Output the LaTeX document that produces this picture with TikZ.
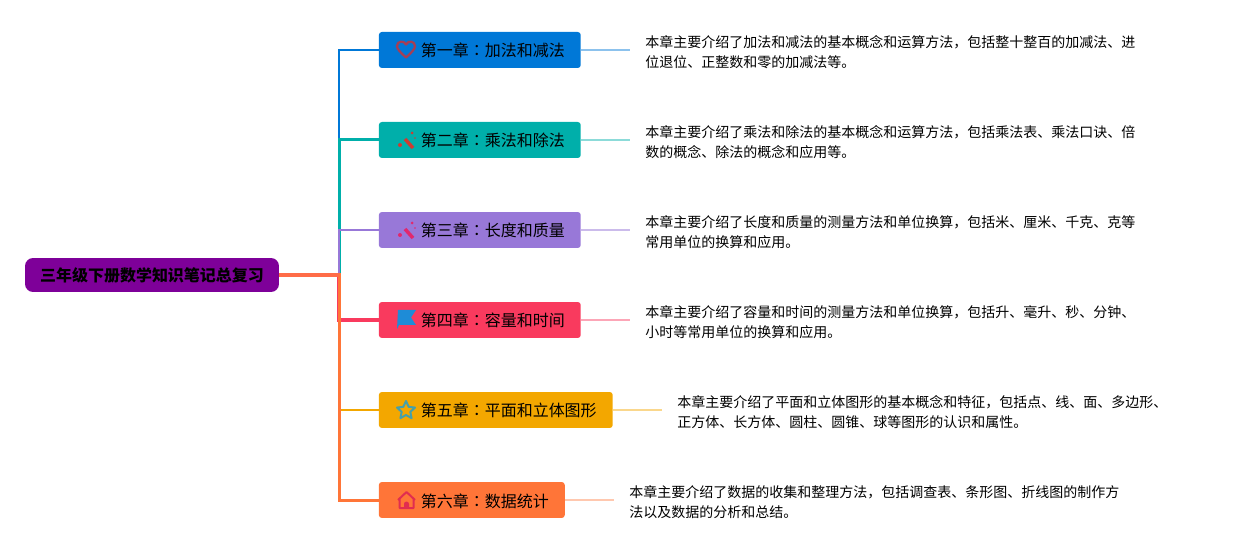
\documentclass[tikz,border=0pt]{standalone}
\usepackage{fontspec}
\setmainfont{Noto Sans CJK SC}
\newfontfamily\colonfont{Noto Sans CJK TC}
\usepackage{xcolor}
\usetikzlibrary{shapes.geometric, positioning}
\definecolor{root-purple}{RGB}{126,0,153}
\definecolor{ch-blue}{RGB}{0,120,215}
\definecolor{ch-teal}{RGB}{0,175,170}
\definecolor{ch-violet}{RGB}{152,120,216}
\definecolor{ch-red}{RGB}{249,58,94}
\definecolor{ch-amber}{RGB}{243,167,0}
\definecolor{ch-orange}{RGB}{255,117,56}
\definecolor{stem-coral}{RGB}{255,108,72}
\definecolor{icon-heart}{RGB}{165,62,85}
\definecolor{icon-wand}{RGB}{205,60,50}
\definecolor{icon-pink}{RGB}{225,40,110}
\definecolor{icon-flag}{RGB}{30,140,215}
\definecolor{icon-star}{RGB}{70,160,170}
\definecolor{icon-house}{RGB}{225,45,80}
\newcommand{\cncolon}{{\colonfont ：}}
\tikzset{
  rootbox/.style={draw=none, fill=root-purple, text=black, rounded corners=0.16cm, minimum width=5.08cm, minimum height=0.68cm, inner sep=0pt, text height=0.32cm, text depth=0.04cm, font=\fontsize{9.1}{11}\selectfont\bfseries},
  chapterbox/.style={draw=none, fill=#1, text=black, rounded corners=0.06cm, anchor=west, minimum height=0.72cm, inner xsep=0.32cm, inner ysep=0pt, text height=0.32cm, text depth=0.04cm, font=\fontsize{9.1}{11}\selectfont, execute at begin node=\hspace*{0.52cm}},
  descbox/.style={anchor=west, align=left, inner xsep=0.3cm, inner ysep=0pt, font=\fontsize{7.97}{11.4}\selectfont},
  branch/.style={draw=#1, line width=0.04cm},
  leafline/.style={draw=#1, line width=0.03cm}
}
\begin{document}
\begin{tikzpicture}[x=0.02cm, y=-0.02cm]
  \useasboundingbox (0,0) rectangle (1237,550);

  % root
  \node[rootbox] (root) at (152,275) {三年级下册数学知识笔记总复习};
  \coordinate (trunk) at (339,275);

  % chapters
  \node[chapterbox=ch-blue] (ch1) at (378.5,50) {第一章\cncolon 加法和减法};
  \node[chapterbox=ch-teal] (ch2) at (378.5,140) {第二章\cncolon 乘法和除法};
  \node[chapterbox=ch-violet] (ch3) at (378.5,230) {第三章\cncolon 长度和质量};
  \node[chapterbox=ch-red] (ch4) at (378.5,320) {第四章\cncolon 容量和时间};
  \node[chapterbox=ch-amber] (ch5) at (378.5,410) {第五章\cncolon 平面和立体图形};
  \node[chapterbox=ch-orange] (ch6) at (378.5,500) {第六章\cncolon 数据统计};

  % summaries
  \node[descbox] (desc1) at (630,52) {本章主要介绍了加法和减法的基本概念和运算方法，包括整十整百的加减法、进\\位退位、正整数和零的加减法等。};
  \node[descbox] (desc2) at (630,142) {本章主要介绍了乘法和除法的基本概念和运算方法，包括乘法表、乘法口诀、倍\\数的概念、除法的概念和应用等。};
  \node[descbox] (desc3) at (630,232) {本章主要介绍了长度和质量的测量方法和单位换算，包括米、厘米、千克、克等\\常用单位的换算和应用。};
  \node[descbox] (desc4) at (630,322) {本章主要介绍了容量和时间的测量方法和单位换算，包括升、毫升、秒、分钟、\\小时等常用单位的换算和应用。};
  \node[descbox] (desc5) at (662,412) {本章主要介绍了平面和立体图形的基本概念和特征，包括点、线、面、多边形、\\正方体、长方体、圆柱、圆锥、球等图形的认识和属性。};
  \node[descbox] (desc6) at (614,502) {本章主要介绍了数据的收集和整理方法，包括调查表、条形图、折线图的制作方\\法以及数据的分析和总结。};

  % branches
  \draw[branch=ch-blue] (root.east) -- (trunk) |- (ch1.west);
  \draw[branch=ch-teal, line width=0.06cm] (root.east) -- (trunk) |- (ch2.west);
  \draw[branch=ch-violet, line width=0.05cm] (root.east) -- (trunk) |- (ch3.west);
  \draw[branch=ch-red, line width=0.09cm] (root.east) -- (trunk) |- (ch4.west);
  \draw[branch=ch-amber] (root.east) -- (trunk) |- (ch5.west);
  \draw[branch=ch-orange, line width=0.06cm] (root.east) -- (trunk) |- (ch6.west);
  \draw[branch=stem-coral, line width=0.09cm] (root.east) -- (trunk);

  % leaves
  \draw[leafline=ch-blue!45] (ch1.east) -- (ch1.east -| desc1.west);
  \draw[leafline=ch-teal!45] (ch2.east) -- (ch2.east -| desc2.west);
  \draw[leafline=ch-violet!50] (ch3.east) -- (ch3.east -| desc3.west);
  \draw[leafline=ch-red!45] (ch4.east) -- (ch4.east -| desc4.west);
  \draw[leafline=ch-amber!45] (ch5.east) -- (ch5.east -| desc5.west);
  \draw[leafline=ch-orange!40] (ch6.east) -- (ch6.east -| desc6.west);

  % icons
  \draw[icon-heart, line width=0.045cm, line join=round] (406,57.5) .. controls (400,52) and (397,49) .. (397,46) .. controls (397,41) and (404,40) .. (406,44.5) .. controls (408,40) and (415,41) .. (415,46) .. controls (415,49) and (412,52) .. (406,57.5) -- cycle;

  \draw[icon-wand, line width=0.07cm] (405,139) -- (413,148);
  \fill[icon-wand] (400,145) circle (2) (412,133) circle (1.5) (415,138) circle (0.8);

  \draw[icon-pink, line width=0.07cm] (405,229) -- (413,238);
  \fill[icon-pink] (400,235) circle (2) (412,223) circle (1.5) (415,228) circle (0.8);

  \fill[icon-flag] (398,310) -- (416,310) -- (411,317.5) -- (416,325) -- (399,325) -- (397,329) -- cycle;

  \node[star, star points=5, star point ratio=2.1, draw=icon-star, line width=0.04cm, line join=round, minimum size=0.38cm, inner sep=0pt] (staricon) at (406,410.5) {};

  \draw[icon-house, line width=0.04cm, line join=round] (398,500) -- (406.5,492) -- (415,500) (399.5,499) -- (399.5,508) -- (413.5,508) -- (413.5,499);
  \fill[icon-house] (404,508) -- (404,504) arc (180:360:2.5) -- (409,508) -- cycle;
\end{tikzpicture}
\end{document}
